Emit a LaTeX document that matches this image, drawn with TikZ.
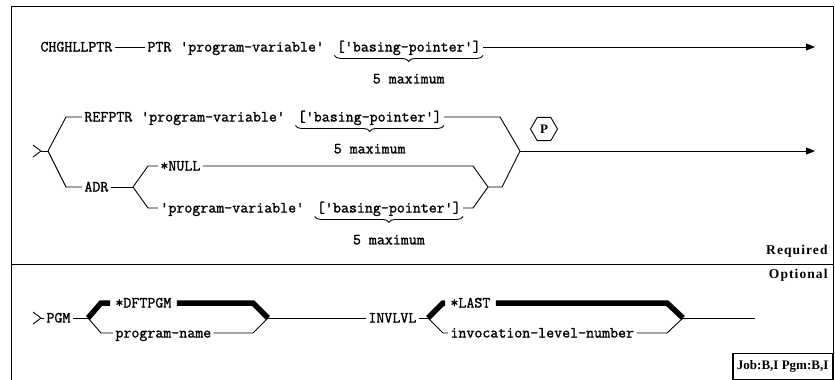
\documentclass[tikz,border=0pt]{standalone}
\usepackage{fontspec}
\newfontfamily\synfont{Latin Modern Mono}[FakeBold=1.4]
\newfontfamily\tagfont{Liberation Serif}[LetterSpace=8]
\newfontfamily\jobfont{Liberation Serif}
\usetikzlibrary{positioning,calc,shapes.geometric,arrows.meta,decorations.pathreplacing}

\begin{document}
\begin{tikzpicture}[
    x=1pt, y=-1pt, line width=0.9pt,
    syn/.style={font=\synfont\fontsize{15.5pt}{17pt}\selectfont, inner sep=2pt, text height=10.5pt, text depth=1.5pt, anchor=west},
    tag/.style={font=\tagfont\bfseries\fontsize{13.5pt}{15pt}\selectfont, inner sep=1pt},
    thk/.style={line width=5.5pt},
    arr/.style={-{Triangle[length=9pt,width=7pt]}},
    brc/.style={decorate, decoration={brace, mirror, amplitude=6pt}, yshift=-3pt}]
    \useasboundingbox (0,0) rectangle (835,380);

    % frame
    \draw (11,6) rectangle (833,380);
    \draw (11,264) -- (833,264);
    \node[tag, anchor=east] (req) at (829,251) {Required};
    \node[tag, anchor=east] (opt) at (829,275) {Optional};
    \node[draw, line width=1.3pt, anchor=south east, minimum height=26pt, inner sep=4pt,
          font=\jobfont\bfseries\fontsize{13pt}{14pt}\selectfont] (job) at (833,380) {Job:B,I Pgm:B,I};

    % CHGHLLPTR PTR
    \node[syn] (chg) at (38,47) {CHGHLLPTR};
    \node[syn] (ptr) at (145,47) {PTR};
    \node[syn, right=4pt of ptr] (pv1) {'program-variable'};
    \node[syn, right=8pt of pv1] (bp1) {['basing-pointer']};
    \node[syn, below=15pt of bp1, anchor=north] (max1) {5 maximum};
    \coordinate (end1) at (815,47);
    \draw (chg) -- (ptr);
    \draw[arr] (bp1) -- (end1);
    \draw[brc] (bp1.south west) -- (bp1.south east);

    % REFPTR / ADR
    \coordinate (gt) at (41,151);
    \coordinate (jL) at (48,151);
    \coordinate (jA) at (133,187);
    \coordinate (jB) at (488,187);
    \coordinate (jR) at (520,151);
    \coordinate (end2) at (815,151);
    \node[syn] (ref) at (82,117) {REFPTR};
    \node[syn, right=4pt of ref] (pv2) {'program-variable'};
    \node[syn, right=8pt of pv2] (bp2) {['basing-pointer']};
    \node[syn, below=15pt of bp2, anchor=north] (max2) {5 maximum};
    \node[syn] (adr) at (82,187) {ADR};
    \node[syn] (null) at (158,166) {*NULL};
    \node[syn] (pv3) at (158,208) {'program-variable'};
    \node[syn, right=8pt of pv3] (bp3) {['basing-pointer']};
    \node[syn, below=15pt of bp3, anchor=north] (max3) {5 maximum};
    \node[draw, regular polygon, regular polygon sides=6, minimum size=27pt, inner sep=0pt,
          font=\jobfont\bfseries\fontsize{13pt}{13pt}\selectfont] (pmark) at (544,129) {P};

    \draw (33,145) -- (gt) -- (33,157);
    \draw (gt) -- (jL);
    \draw (jL) -- (66,117) -- (ref);
    \draw (jL) -- (66,187) -- (adr);
    \draw (adr) -- (jA);
    \draw (jA) -- (148,166) -- (null);
    \draw (jA) -- (148,208) -- (pv3);
    \draw (null) -- (473,166) -- (jB);
    \draw (bp3) -- (473,208) -- (jB);
    \draw (jB) -- (502,187) -- (jR);
    \draw (bp2) -- (500,117) -- (jR);
    \draw[arr] (jR) -- (end2);
    \draw[brc] (bp2.south west) -- (bp2.south east);
    \draw[brc] (bp3.south west) -- (bp3.south east);

    % PGM INVLVL
    \coordinate (gt2) at (41,318);
    \coordinate (jP1) at (88,318);
    \coordinate (jP2) at (268,318);
    \coordinate (jQ1) at (428,318);
    \coordinate (jQ2) at (683,318);
    \coordinate (end3) at (755,318);
    \node[syn] (pgm) at (44,318) {PGM};
    \node[syn] (dft) at (113,303) {*DFTPGM};
    \node[syn] (pname) at (113,333) {program-name};
    \node[syn] (invl) at (366,318) {INVLVL};
    \node[syn] (last) at (448,303) {*LAST};
    \node[syn] (ilnum) at (448,333) {invocation-level-number};

    \draw (33,312) -- (gt2) -- (33,324);
    \draw (gt2) -- (pgm);
    \draw (pgm) -- (jP1);
    \draw[thk, shorten >=3pt] (jP1) -- (101,303) -- (dft);
    \draw[thk, shorten <=3pt] (dft) -- (253,303) -- (jP2);
    \draw (jP1) -- (101,333) -- (pname);
    \draw (pname) -- (253,333) -- (jP2);
    \draw (jP2) -- (invl);
    \draw (invl) -- (jQ1);
    \draw[thk, shorten >=3pt] (jQ1) -- (443,303) -- (last);
    \draw[thk, shorten <=3pt] (last) -- (667,303) -- (jQ2);
    \draw (jQ1) -- (443,333) -- (ilnum);
    \draw (ilnum) -- (667,333) -- (jQ2);
    \draw (jQ2) -- (end3);
\end{tikzpicture}
\end{document}
